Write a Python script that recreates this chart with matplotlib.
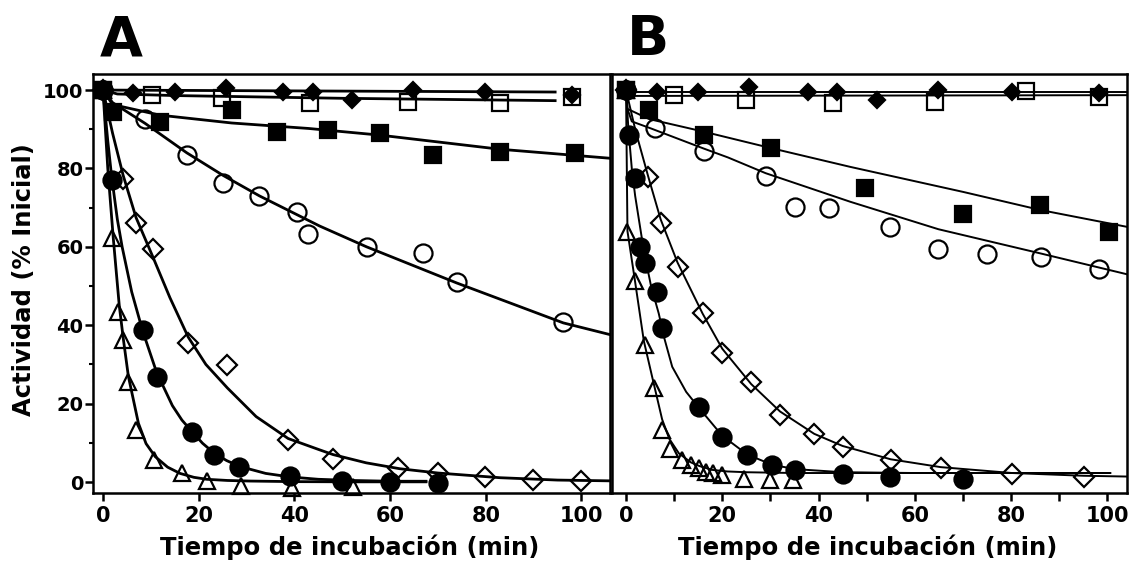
import matplotlib
matplotlib.use("Agg")
import matplotlib.pyplot as plt
from matplotlib.ticker import MultipleLocator

plt.rcParams['font.family'] = ['DejaVu Sans']
plt.rcParams['font.weight'] = 'bold'

# ── Panel A: datos experimentales ──────────────────────────────────────────
a_fd_t = [0, 6.3, 15, 25.7, 37.6, 43.9, 52, 64.8, 79.8, 98]
a_fd_y = [100, 99.2, 99.5, 100.5, 99.5, 99.5, 97.4, 100, 99.5, 98.7]
a_os_t = [0, 10.2, 24.8, 43.3, 63.7, 83, 98]
a_os_y = [100, 98.7, 97.9, 96.7, 97, 96.7, 98.3]
a_fs_t = [0, 2.1, 11.9, 26.9, 36.3, 47, 57.9, 69, 83, 98.6]
a_fs_y = [100, 94.5, 91.9, 94.9, 89.4, 89.8, 89, 83.4, 84.3, 83.9]
a_oc_t = [0, 8.8, 17.5, 25, 32.7, 40.5, 42.9, 55.1, 66.9, 73.9, 96.2]
a_oc_y = [100, 92.5, 83.4, 76.2, 73, 69, 63.4, 60, 58.5, 51.1, 40.9]
a_od_t = [0, 4.2, 6.9, 10.4, 17.8, 26, 38.7, 48.1, 61.7, 70, 79.8, 89.9, 100]
a_od_y = [100, 77.4, 66, 59.4, 35.5, 29.8, 10.7, 5.8, 3.5, 2.2, 1.2, 0.4, 0.3]
a_fc_t = [0, 1.8, 8.3, 11.2, 18.5, 23.1, 28.5, 39.1, 50, 60, 70]
a_fc_y = [100, 77, 38.8, 26.9, 12.8, 6.9, 3.9, 1.5, 0.2, 0.1, -0.3]
a_ot_t = [0, 1.8, 3.2, 4.1, 5.2, 7, 10.6, 16.5, 21.8, 28.8, 39.5, 52.2]
a_ot_y = [100, 62.2, 43.4, 36.2, 25.6, 13.3, 5.6, 2.4, 0.3, -1.0, -1.6, -1.2]

# Panel A: curvas ajustadas
a_fd_fit_t = [0, 94.5]
a_fd_fit_y = [100, 99.5]
a_os_fit_t = [0, 3, 15, 50, 94.5]
a_os_fit_y = [100, 99, 98.6, 97.9, 97.3]
a_fs_fit_t = [0, 2, 11.9, 26.9, 43, 57.9, 83, 106]
a_fs_fit_y = [100, 96.3, 93.6, 91.6, 90.2, 88.5, 84.9, 82.6]
a_oc_fit_t = [0, 2, 8.8, 17.5, 25, 32.7, 45.3, 55.1, 73.9, 96.2, 106]
a_oc_fit_y = [100, 96.8, 91.5, 84, 78.3, 73, 65.3, 60, 50.8, 40.6, 37.6]
a_od_fit_t = [0, 2, 4.2, 6.9, 10.4, 14, 17.8, 21.5, 26, 32, 38.7, 45.3, 48.1, 55, 62, 70, 83, 95, 106]
a_od_fit_y = [100, 89, 78.3, 67.5, 57.5, 47, 37, 30, 24, 16.7, 11.1, 8.2, 7.0, 4.9, 3.4, 2.3, 1.1, 0.5, 0.3]
a_fc_fit_t = [0, 1, 1.8, 3, 4, 6, 8.3, 11.2, 14.5, 16.5, 18.5, 20.8, 23.1, 25.8, 28.5, 34, 39.1, 45, 52, 60, 67.5]
a_fc_fit_y = [100, 87, 78, 67, 60, 48.5, 38.5, 28, 19.5, 15.8, 13, 9.9, 7.5, 5.5, 4, 2.2, 1.3, 0.7, 0.4, 0.2, 0.2]
a_ot_fit_t = [0, 1, 2.15, 3.4, 4.25, 5.3, 7.4, 9, 10.9, 13.5, 16.1, 19, 21.7, 26, 30.7, 40, 52, 67.5]
a_ot_fit_y = [100, 80, 62.2, 45, 36.5, 27, 15, 9.8, 6.5, 3.8, 2.2, 1.2, 0.7, 0.4, 0.25, 0.1, 0.05, 0.05]

# ── Panel B: datos experimentales ──────────────────────────────────────────
b_fd_t = [0, 6.4, 15, 25.6, 37.9, 43.8, 52.1, 64.9, 80.2, 98.2]
b_fd_y = [100, 99.6, 99.6, 100.8, 99.4, 99.4, 97.4, 100, 99.6, 99.2]
b_os_t = [0, 10, 24.9, 43.1, 64.2, 83.2, 98.2]
b_os_y = [100, 98.7, 97.4, 96.6, 97, 99.8, 98.3]
b_fs_t = [0, 4.8, 16.1, 30.1, 49.7, 70.1, 86.1, 100.3]
b_fs_y = [100, 94.9, 88.5, 85.1, 74.9, 68.4, 70.7, 63.9]
b_oc_t = [0, 6, 16.1, 29, 35.1, 42.1, 54.9, 64.9, 75, 86.2, 98.2]
b_oc_y = [100, 90.2, 84.5, 78.1, 70.2, 69.8, 65.1, 59.4, 58.3, 57.3, 54.3]
b_od_t = [0, 4.6, 7.2, 10.7, 15.9, 20, 26, 32, 39.1, 45, 55, 65.4, 80.2, 95.1]
b_od_y = [100, 77.9, 66, 54.9, 43, 32.8, 25.6, 17.1, 12.2, 9, 5.6, 3.7, 2.0, 1.4]
b_fc_t = [0, 0.6, 1.9, 3.0, 4, 6.4, 7.5, 15.1, 20, 25.2, 30.4, 35.1, 45, 54.9, 70]
b_fc_y = [100, 88.5, 77.5, 60, 55.8, 48.5, 39.2, 19.2, 11.6, 6.9, 4.3, 3.1, 2.0, 1.2, 0.8]
b_ot_t = [0, 0.3, 1.9, 3.9, 5.9, 7.5, 9.1, 11.6, 13.4, 15.2, 16.7, 18.1, 19.9, 24.6, 30, 34.7]
b_ot_y = [100, 63.9, 51.3, 35, 24.1, 13.3, 8.4, 5.6, 4.3, 3.5, 2.6, 2.2, 1.8, 0.9, 0.4, 0.4]

# Panel B: curvas ajustadas
b_fd_fit_t = [0, 104.1]
b_fd_fit_y = [99.5, 99.5]
b_os_fit_t = [0, 104.1]
b_os_fit_y = [98.5, 98.7]
b_fs_fit_t = [0, 0.3, 4.8, 16.1, 30.1, 46.6, 70.1, 86.1, 104.1]
b_fs_fit_y = [100, 95.2, 92.6, 89.4, 85.2, 80.4, 74, 69.4, 65.1]
b_oc_fit_t = [0, 0.3, 1.2, 5.2, 16.1, 21.2, 29, 46.6, 64.9, 86.2, 104.1]
b_oc_fit_y = [100, 95.2, 92, 90.2, 85.1, 82.8, 78.8, 71.5, 64.5, 58.3, 53]
b_od_fit_t = [0, 2, 4.6, 7.2, 10.7, 15.9, 20, 26, 32, 39.1, 45, 55, 65.4, 80.2, 95.1, 104.1]
b_od_fit_y = [100, 89.5, 78, 67, 56, 43, 34, 25, 18, 12.3, 9.2, 5.8, 3.8, 2.3, 1.6, 1.4]
b_fc_fit_t = [0, 0.5, 1.2, 1.9, 3.7, 5.2, 6.8, 8, 9.6, 12.5, 15.1, 20, 25.2, 30.4, 35.1, 45, 60, 100.6]
b_fc_fit_y = [100, 90, 80, 73, 59, 50, 43, 36.5, 29.4, 23, 19, 11.8, 7, 4.4, 3.3, 2.5, 2.3, 2.3]
b_ot_fit_t = [0, 0.3, 1.9, 3.7, 5.4, 7.5, 9, 11, 13.5, 15.2, 17.9, 21, 25, 35, 50, 100.6]
b_ot_fit_y = [100, 64, 51, 36, 27, 16, 11, 7.3, 5, 4.1, 3.1, 2.7, 2.5, 2.3, 2.3, 2.3]

x_ticks = [0, 20, 40, 60, 80, 100]
y_ticks = [0, 20, 40, 60, 80, 100]

# ── Figura ─────────────────────────────────────────────────────────────────
fig = plt.figure(figsize=(11.3, 5.67), dpi=100)
axA = fig.add_axes([0.0823, 0.1305, 0.4575, 0.739])
axB = fig.add_axes([0.5416, 0.1305, 0.4558, 0.739])

# estilos de marcador: (marker, size, facecolor)
open_ = 'none'
styles = {
    'fd': ('D', 8.5, 'black'),
    'os': ('s', 12, open_),
    'fs': ('s', 12, 'black'),
    'oc': ('o', 13, open_),
    'od': ('D', 10, open_),
    'fc': ('o', 13, 'black'),
    'ot': ('^', 12, open_),
}

panel_a = [
    ('fd', a_fd_t, a_fd_y, a_fd_fit_t, a_fd_fit_y),
    ('os', a_os_t, a_os_y, a_os_fit_t, a_os_fit_y),
    ('oc', a_oc_t, a_oc_y, a_oc_fit_t, a_oc_fit_y),
    ('od', a_od_t, a_od_y, a_od_fit_t, a_od_fit_y),
    ('ot', a_ot_t, a_ot_y, a_ot_fit_t, a_ot_fit_y),
    ('fc', a_fc_t, a_fc_y, a_fc_fit_t, a_fc_fit_y),
    ('fs', a_fs_t, a_fs_y, a_fs_fit_t, a_fs_fit_y),
]
panel_b = [
    ('fd', b_fd_t, b_fd_y, b_fd_fit_t, b_fd_fit_y),
    ('os', b_os_t, b_os_y, b_os_fit_t, b_os_fit_y),
    ('oc', b_oc_t, b_oc_y, b_oc_fit_t, b_oc_fit_y),
    ('od', b_od_t, b_od_y, b_od_fit_t, b_od_fit_y),
    ('ot', b_ot_t, b_ot_y, b_ot_fit_t, b_ot_fit_y),
    ('fc', b_fc_t, b_fc_y, b_fc_fit_t, b_fc_fit_y),
    ('fs', b_fs_t, b_fs_y, b_fs_fit_t, b_fs_fit_y),
]

for ax, series, lw in ((axA, panel_a, 2.0), (axB, panel_b, 1.4)):
    for key, t, y, ft, fy in series:
        ax.plot(ft, fy, '-', color='black', linewidth=lw, zorder=2)
    for key, t, y, ft, fy in series:
        m, ms, fc = styles[key]
        ax.plot(t, y, linestyle='none', marker=m, markersize=ms,
                markerfacecolor=fc, markeredgecolor='black',
                markeredgewidth=1.6, zorder=3, clip_on=False)
    for sp in ax.spines.values():
        sp.set_linewidth(1.8)
    ax.set_ylim(-2.8, 104.1)
    ax.set_xticks(x_ticks)
    ax.tick_params(axis='x', which='both', direction='out', length=6, width=1.8,
                   pad=3, labelsize=15)

axA.set_xlim(-2.09, 105.96)
axB.set_xlim(-2.91, 104.1)

axA.set_yticks(y_ticks)
axA.yaxis.set_minor_locator(MultipleLocator(10))
axA.tick_params(axis='y', which='major', direction='out', length=6, width=1.8,
                pad=1, labelsize=14)
axA.tick_params(axis='y', which='minor', direction='out', length=3, width=1.5)
axA.set_ylabel('Actividad (% Inicial)', fontsize=17.5, fontweight='bold')
axA.yaxis.set_label_coords(-0.110, 0.51)

axB.xaxis.set_minor_locator(MultipleLocator(10))
axB.tick_params(axis='x', which='minor', length=6, width=1.8)
axB.tick_params(axis='y', which='both', left=False, labelleft=False)

for ax in (axA, axB):
    ax.set_xlabel('Tiempo de incubación (min)', fontsize=17.5, fontweight='bold')
    ax.xaxis.set_label_coords(0.497, -0.10)
    for lab in ax.get_xticklabels() + ax.get_yticklabels():
        lab.set_fontweight('bold')

fig.text(100 / 1130, 1 - 55 / 567, 'A', fontsize=40, fontweight='bold',
         ha='left', va='baseline')
fig.text(627 / 1130, 1 - 55 / 567, 'B', fontsize=40, fontweight='bold',
         ha='left', va='baseline')

plt.savefig('out.png', dpi=100, facecolor='white')
